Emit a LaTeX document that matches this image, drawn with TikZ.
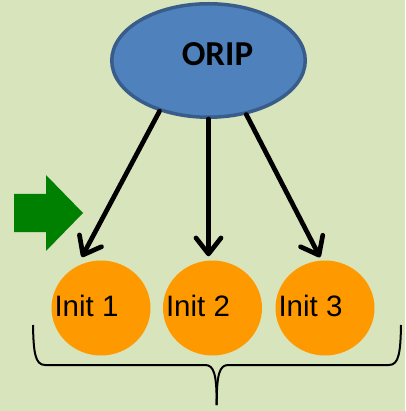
\documentclass[tikz,border=0pt]{standalone}
\usepackage{fontspec}
\setmainfont{Liberation Sans}
\newfontfamily\caliborfont{Carlito}
\usetikzlibrary{shapes.geometric,arrows.meta,calc}
\definecolor{bgc}{HTML}{D8E4BC}
\definecolor{blfill}{HTML}{4F81BD}
\definecolor{bldraw}{HTML}{385D8A}
\definecolor{orng}{HTML}{FF9900}
\definecolor{grn}{HTML}{008000}
\tikzset{
  rootnode/.style={ellipse, fill=blfill, draw=bldraw, line width=3.5pt, inner sep=0pt, minimum width=193.5pt, minimum height=113.5pt},
  roottxt/.style={inner sep=0pt, font=\caliborfont\fontsize{35}{40}\selectfont\bfseries},
  initnode/.style={ellipse, fill=orng, inner sep=0pt, minimum width=99pt, minimum height=95pt},
  inittxt/.style={inner sep=0pt, font=\fontsize{29.5}{34}\selectfont},
  arr/.style={line width=4.7pt, line cap=round, line join=round, -{Straight Barb[length=16pt,width=25pt,round]}},
  bracestyle/.style={line width=2pt, line join=round}
}
\begin{document}
\begin{tikzpicture}[x=1pt,y=-1pt]
\fill[bgc] (0,0) rectangle (405,411);
\useasboundingbox (0,0) rectangle (405,411);
\node[rootnode] (orip) at (208.5,60.5) {};
\node[roottxt] (oriptxt) at ($(orip)+(9,-6)$) {ORIP};
\node[initnode] (c1) at (101,308) {};
\node[initnode] (c2) at (212.5,308) {};
\node[initnode] (c3) at (325,308) {};
\node[inittxt] (t1) at ($(c1)+(-14.5,-2.5)$) {Init 1};
\node[inittxt] (t2) at ($(c2)+(-14.5,-2.5)$) {Init 2};
\node[inittxt] (t3) at ($(c3)+(-14.5,-2.5)$) {Init 3};
\draw[arr, shorten >=10.5pt] (orip.-134) -- (c1.120);
\draw[arr, shorten >=4pt] (orip.south) -- (orip.south |- c2.north);
\draw[arr, shorten >=3.5pt] (orip.-55) -- (c3.94);
\fill[grn] (14,194) -- (46,194) -- (46,175) -- (83,213) -- (46,251) -- (46,232) -- (14,232) -- cycle;
\draw[bracestyle] (33,325) .. controls (33.5,352) and (35,365) .. (45,365) -- (205,365) .. controls (214,365) and (216.7,374) .. (216.7,405);
\draw[bracestyle] (401,325) .. controls (400.5,352) and (399,365) .. (389,365) -- (228.4,365) .. controls (219.4,365) and (216.7,374) .. (216.7,405);
\end{tikzpicture}
\end{document}
